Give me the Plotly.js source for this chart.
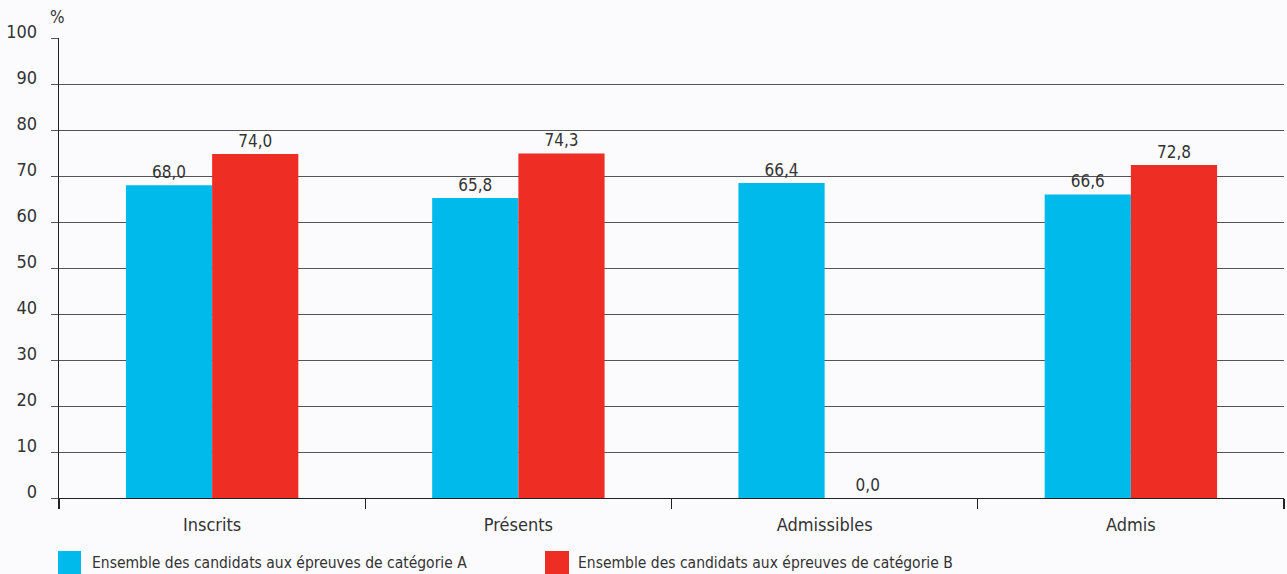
<!DOCTYPE html>
<html>
<head>
<meta charset="utf-8">
<script src="https://cdn.plot.ly/plotly-3.0.1.min.js"></script>
<style>
  html, body { margin: 0; padding: 0; background: #fbfbfd; }
  #chart { width: 1287px; height: 574px; }
</style>
</head>
<body>
<div id="chart"></div>
<script>
// ---- data ----
var categories = ["Inscrits", "Présents", "Admissibles", "Admis"];
var seriesNames = [
  "Ensemble des candidats aux épreuves de catégorie A",
  "Ensemble des candidats aux épreuves de catégorie B"
];
var valuesA = [68.0, 65.2, 68.5, 66.0];
var valuesB = [74.8, 74.9, 0.0, 72.4];
var labelsA = ["68,0", "65,8", "66,4", "66,6"];
var labelsB = ["74,0", "74,3", "0,0", "72,8"];
var yTickValues = [0, 10, 20, 30, 40, 50, 60, 70, 80, 90, 100];

// ---- style ----
var FONT = "'DejaVu Sans Condensed', 'Roboto', sans-serif";
var TXT = "#333333";
var colorA = "#00BAEB";
var colorB = "#EE2D24";

var W = 1287, H = 574;
var mL = 59, mR = 3, mT = 38, mB = 76;
var plotW = W - mL - mR, plotH = H - mT - mB;
function px2x(px) { return (px - mL) / plotW; }
function py2y(py) { return (H - mB - py) / plotH; }

var traceA = {
  type: "bar", name: seriesNames[0], x: categories, y: valuesA,
  text: labelsA, textposition: "outside", cliponaxis: false,
  textfont: { family: FONT, size: 17, color: TXT },
  marker: { color: colorA, line: { width: 0 } },
  hoverinfo: "x+y"
};
var traceB = {
  type: "bar", name: seriesNames[1], x: categories, y: valuesB,
  text: labelsB, textposition: "outside", cliponaxis: false,
  textfont: { family: FONT, size: 17, color: TXT },
  marker: { color: colorB, line: { width: 0 } },
  hoverinfo: "x+y"
};

var legendItems = [
  { sq: [58, 81], tx: 90, color: colorA, name: seriesNames[0] },
  { sq: [545, 569], tx: 576, color: colorB, name: seriesNames[1] }
];
var shapes = [], annotations = [];
legendItems.forEach(function (it) {
  shapes.push({
    type: "rect", xref: "paper", yref: "paper",
    x0: px2x(it.sq[0]), x1: px2x(it.sq[1]), y0: py2y(574), y1: py2y(551),
    fillcolor: it.color, line: { width: 0 }
  });
  annotations.push({
    xref: "paper", yref: "paper", x: px2x(it.tx), y: py2y(563),
    xanchor: "left", yanchor: "middle", showarrow: false,
    text: it.name, font: { family: FONT, size: 15.5, color: TXT }
  });
});
annotations.push({
  xref: "paper", yref: "paper", x: px2x(57), y: py2y(17),
  xanchor: "center", yanchor: "middle", showarrow: false,
  text: "%", font: { family: FONT, size: 17, color: TXT }
});

var layout = {
  width: W, height: H,
  margin: { l: mL, r: mR, t: mT, b: mB, pad: 0 },
  paper_bgcolor: "#fbfbfd", plot_bgcolor: "#fbfbfd",
  barmode: "group", bargap: 0.437, bargroupgap: 0,
  showlegend: false,
  font: { family: FONT, color: TXT },
  xaxis: {
    type: "category", range: [-0.5, 3.5],
    showline: true, linecolor: "#222", linewidth: 1.3,
    ticks: "outside", tickson: "boundaries", ticklen: 10, tickcolor: "#222", tickwidth: 1.3,
    ticklabelstandoff: 10,
    tickfont: { family: FONT, size: 18, color: TXT },
    showgrid: false, zeroline: false, fixedrange: true
  },
  yaxis: {
    range: [0, 100], tickvals: yTickValues,
    showline: true, linecolor: "#222", linewidth: 1.3,
    ticks: "outside", ticklen: 7, tickcolor: "#555", tickwidth: 1,
    ticklabelstandoff: 10, ticklabelshift: -6,
    tickfont: { family: FONT, size: 18, color: TXT },
    showgrid: true, gridcolor: "#555", gridwidth: 1,
    zeroline: false, fixedrange: true
  },
  shapes: shapes,
  annotations: annotations
};

Plotly.newPlot("chart", [traceA, traceB], layout, { displayModeBar: false, staticPlot: true });
</script>
</body>
</html>
